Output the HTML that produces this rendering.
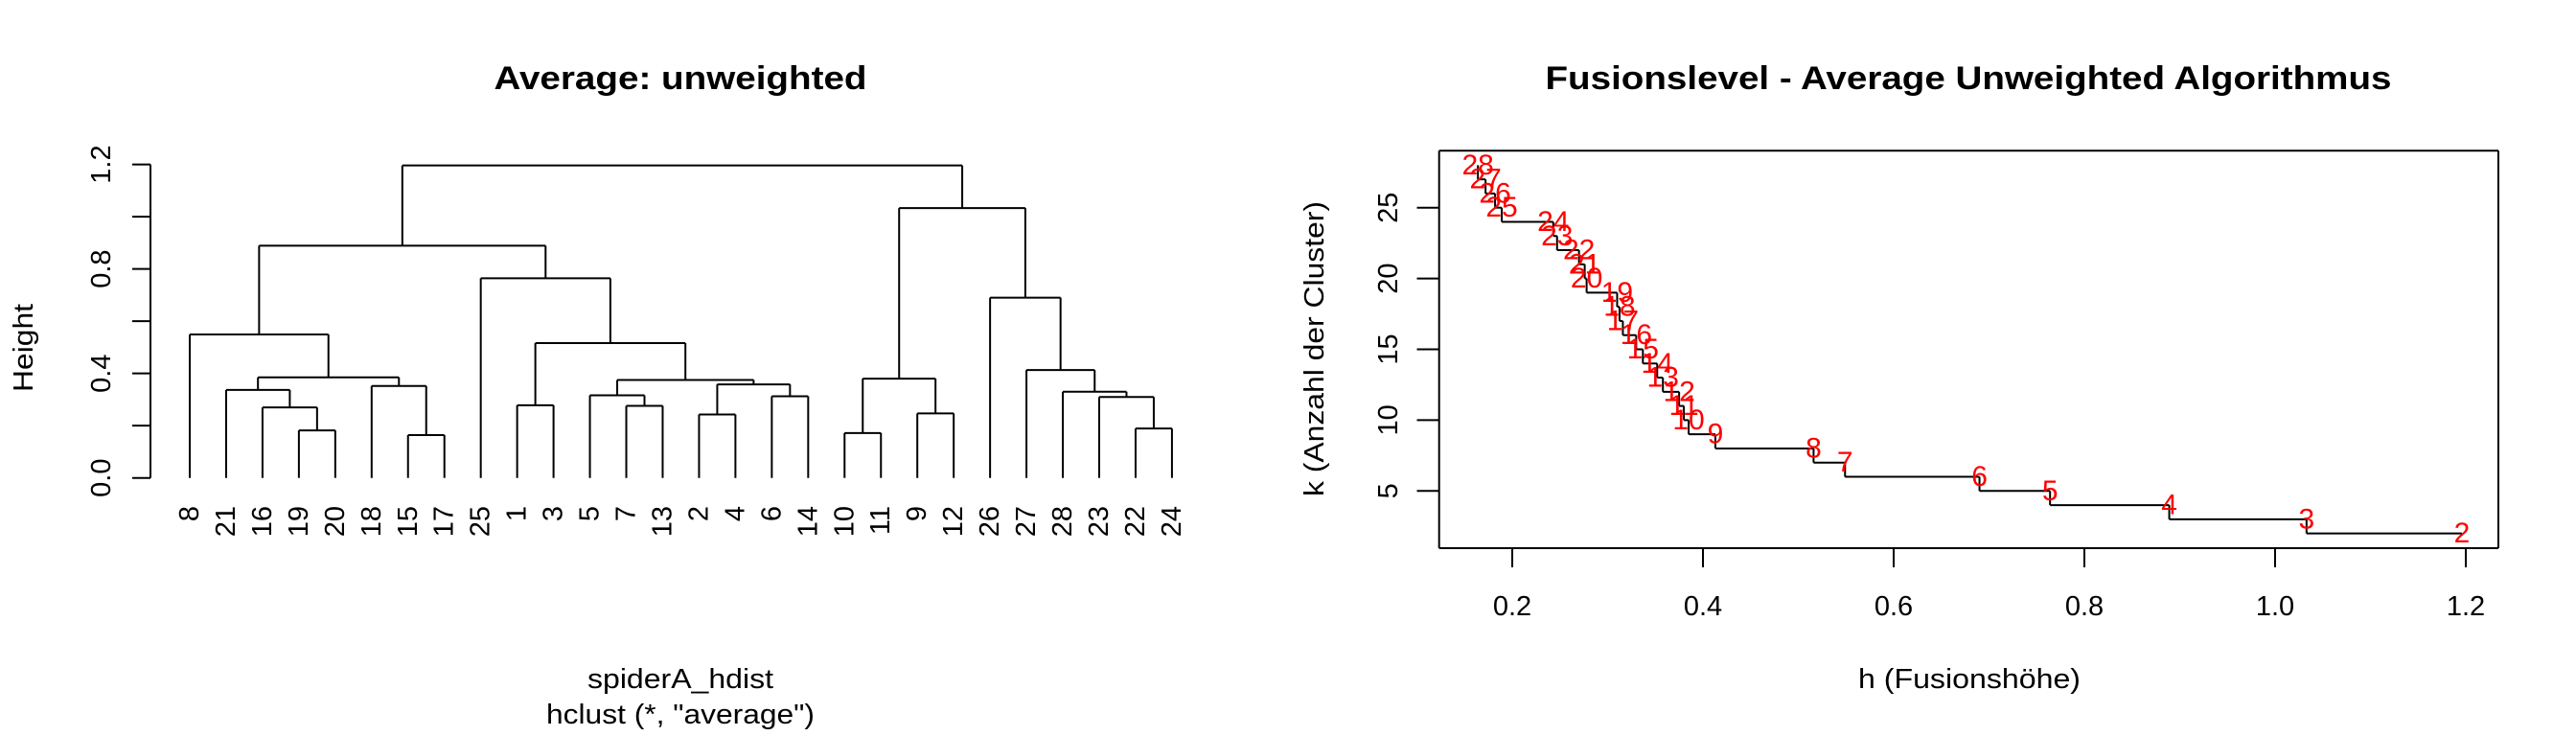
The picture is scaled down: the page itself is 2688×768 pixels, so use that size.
<!DOCTYPE html>
<html><head><meta charset="utf-8"><style>
html,body{margin:0;padding:0;background:#fff;}
svg{display:block;}
text{font-family:"Liberation Sans",Arial,sans-serif;}
</style></head><body>
<svg id="s" width="2688" height="768" xmlns="http://www.w3.org/2000/svg">
<rect width="2688" height="768" fill="#fff"/>
<text x="710" y="93" font-size="34" font-weight="bold" text-anchor="middle" textLength="389" lengthAdjust="spacingAndGlyphs">Average: unweighted</text>
<text x="2054" y="93" font-size="34" font-weight="bold" text-anchor="middle" textLength="883" lengthAdjust="spacingAndGlyphs">Fusionslevel - Average Unweighted Algorithmus</text>
<text x="710" y="718" font-size="29" text-anchor="middle" textLength="194" lengthAdjust="spacingAndGlyphs">spiderA_hdist</text>
<text x="710" y="755" font-size="29" text-anchor="middle" textLength="280" lengthAdjust="spacingAndGlyphs">hclust (*, "average")</text>
<text x="2055" y="718" font-size="29" text-anchor="middle" textLength="232" lengthAdjust="spacingAndGlyphs">h (Fusionshöhe)</text>
<text transform="translate(34,363) rotate(-90)" font-size="29" text-anchor="middle" textLength="92" lengthAdjust="spacingAndGlyphs">Height</text>
<text transform="translate(1381,364) rotate(-90)" font-size="29" text-anchor="middle" textLength="308" lengthAdjust="spacingAndGlyphs">k (Anzahl der Cluster)</text>
<g id="g" stroke="#000" stroke-width="2" fill="none"></g>
<g id="t" font-size="29"></g>
</svg>
<script>
var NS="http://www.w3.org/2000/svg",g=document.getElementById('g'),tg=document.getElementById('t');
function L(x1,y1,x2,y2,c){var e=document.createElementNS(NS,'line');e.setAttribute('x1',x1);e.setAttribute('y1',y1);e.setAttribute('x2',x2);e.setAttribute('y2',y2);if(c)e.setAttribute('stroke',c);g.appendChild(e);}
function T(s,x,y,o){var e=document.createElementNS(NS,'text');e.textContent=s;e.setAttribute('x',x);e.setAttribute('y',y);for(var k in o)e.setAttribute(k,o[k]);tg.appendChild(e);return e;}
// Left dendrogram
var Y0=498.7,SC=272.6;function yh(h){return Y0-h*SC;}
L(157,yh(0),157,yh(1.2));
[0,0.4,0.8,1.2,0.2,0.6,1.0].forEach(function(v){L(138,yh(v),157,yh(v));});
["0.0","0.4","0.8","1.2"].forEach(function(s){var v=parseFloat(s);T(s,0,0,{transform:"translate(115,"+yh(v)+") rotate(-90)","text-anchor":"middle"});});
var tree=[1.196,[0.889,[0.549,'8',[0.385,[0.337,'21',[0.270,'16',[0.182,'19','20']]],[0.352,'18',[0.164,'15','17']]]],[0.764,'25',[0.516,[0.278,'1','3'],[0.375,[0.316,'5',[0.276,'7','13']],[0.358,[0.243,'2','4'],[0.3125,'6','14']]]]]],[1.033,[0.380,[0.172,'10','11'],[0.247,'9','12']],[0.690,'26',[0.413,'27',[0.330,'28',[0.310,'23',[0.189,'22','24']]]]]]];
var li=0;
function draw(n){if(typeof n==='string'){var x=198+li*37.96;li++;T(n,0,0,{transform:"translate("+x+",528) rotate(-90)","text-anchor":"end","dominant-baseline":"central"});return {x:x,h:0};}
var a=draw(n[1]),b=draw(n[2]),h=n[0];L(a.x,yh(a.h),a.x,yh(h));L(b.x,yh(b.h),b.x,yh(h));L(a.x,yh(h),b.x,yh(h));return {x:(a.x+b.x)/2,h:h};}
draw(tree);
// Right plot
function xr(h){return 1578+(h-0.2)*995;}function yk(k){return 512.3-(k-5)*14.78;}
L(1501.7,157.3,2607,157.3);L(2607,157.3,2607,572);L(2607,572,1501.7,572);L(1501.7,572,1501.7,157.3);
[0.2,0.4,0.6,0.8,1.0,1.2].forEach(function(v){L(xr(v),572,xr(v),592);T(v.toFixed(1),xr(v),642,{"text-anchor":"middle"});});
[5,10,15,20,25].forEach(function(v){L(1478.5,yk(v),1501.7,yk(v));T(String(v),0,0,{transform:"translate(1458,"+yk(v)+") rotate(-90)","text-anchor":"middle"});});
var hs=[0.164,0.172,0.182,0.189,0.243,0.247,0.270,0.276,0.278,0.310,0.3125,0.316,0.330,0.337,0.352,0.358,0.375,0.380,0.385,0.413,0.516,0.549,0.690,0.764,0.889,1.033,1.196];
for(var i=0;i<hs.length;i++){var k=28-i;if(i>0){L(xr(hs[i-1]),yk(k+1),xr(hs[i-1]),yk(k));L(xr(hs[i-1]),yk(k),xr(hs[i]),yk(k));}}
for(var i=0;i<hs.length;i++){var k=28-i;T(String(k),xr(hs[i]),yk(k),{"text-anchor":"middle","dominant-baseline":"central",fill:"#ff0000","font-size":"30"});}
</script>
</body></html>
